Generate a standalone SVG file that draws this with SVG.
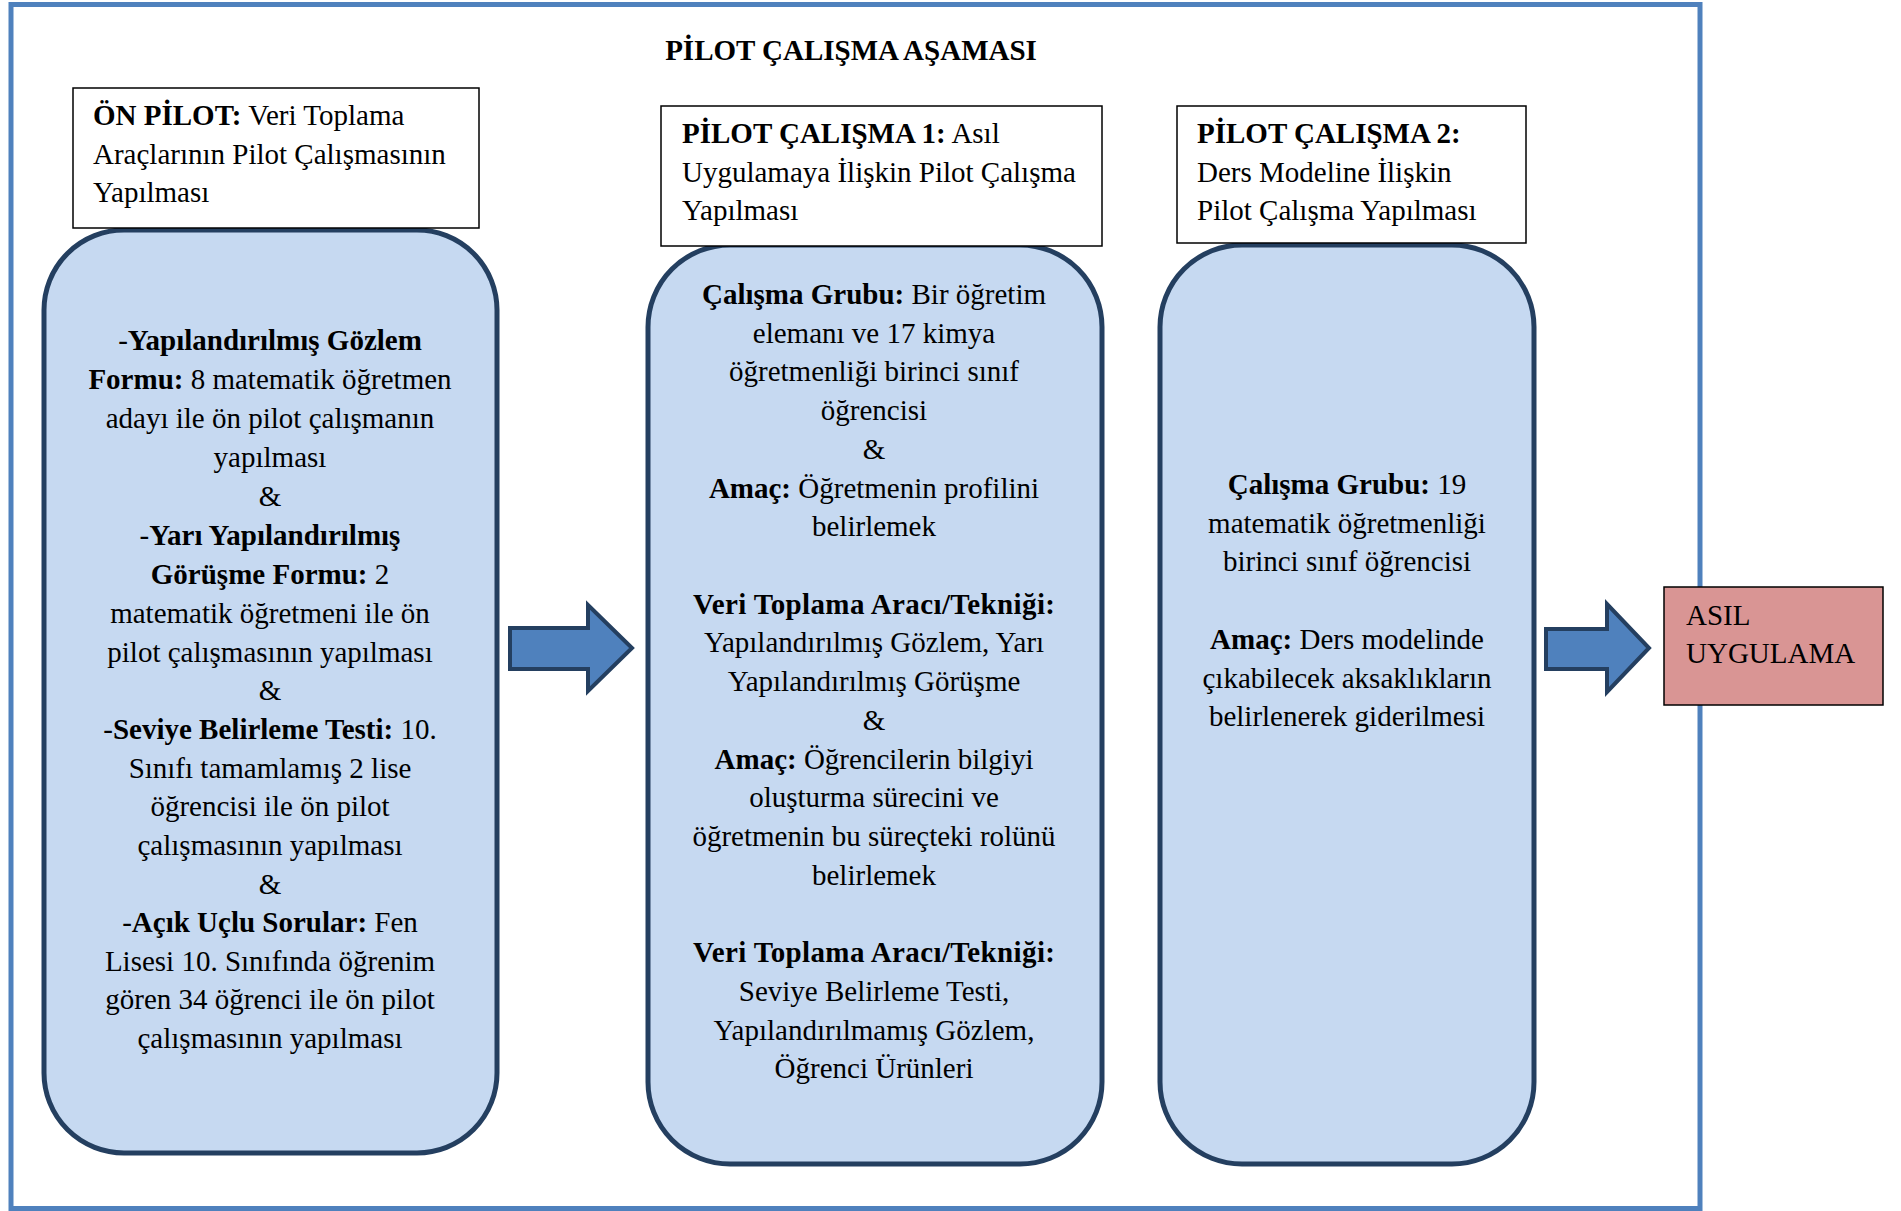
<svg xmlns="http://www.w3.org/2000/svg" width="1901" height="1211" viewBox="0 0 1901 1211">
<style>
text{font-family:"Liberation Serif","Times New Roman",serif;font-size:29px;fill:#000}
.c{text-anchor:middle}
.b{font-weight:bold}
.frame{fill:none;stroke:#4F81BD;stroke-width:5}
.round{fill:#C6D9F1;stroke:#243F60;stroke-width:5}
.hdr{fill:#fff;stroke:#000;stroke-width:1.5}
.arrow{fill:#4F81BD;stroke:#243F60;stroke-width:4;stroke-linejoin:miter}
</style>
<rect width="1901" height="1211" fill="#fff"/>
<rect class="frame" x="11" y="4.5" width="1689" height="1204"/>
<text id="title" class="c b" x="851" y="60">PİLOT ÇALIŞMA AŞAMASI</text>

<g id="onpilot-body">
<rect class="round" x="44" y="230" width="453" height="923" rx="80" ry="80"/>
<text class="c" x="270" y="350">-<tspan class="b">Yapılandırılmış Gözlem</tspan></text>
<text class="c" x="270" y="389"><tspan class="b">Formu:</tspan> 8 matematik öğretmen</text>
<text class="c" x="270" y="428">adayı ile ön pilot çalışmanın</text>
<text class="c" x="270" y="467">yapılması</text>
<text class="c" x="270" y="506">&amp;</text>
<text class="c" x="270" y="545">-<tspan class="b">Yarı Yapılandırılmış</tspan></text>
<text class="c" x="270" y="584"><tspan class="b">Görüşme Formu:</tspan> 2</text>
<text class="c" x="270" y="623">matematik öğretmeni ile ön</text>
<text class="c" x="270" y="662">pilot çalışmasının yapılması</text>
<text class="c" x="270" y="700">&amp;</text>
<text class="c" x="270" y="739">-<tspan class="b">Seviye Belirleme Testi:</tspan> 10.</text>
<text class="c" x="270" y="778">Sınıfı tamamlamış 2 lise</text>
<text class="c" x="270" y="816">öğrencisi ile ön pilot</text>
<text class="c" x="270" y="855">çalışmasının yapılması</text>
<text class="c" x="270" y="894">&amp;</text>
<text class="c" x="270" y="932">-<tspan class="b">Açık Uçlu Sorular:</tspan> Fen</text>
<text class="c" x="270" y="971">Lisesi 10. Sınıfında öğrenim</text>
<text class="c" x="270" y="1009">gören 34 öğrenci ile ön pilot</text>
<text class="c" x="270" y="1048">çalışmasının yapılması</text>
</g>

<g id="pilot1-body">
<rect class="round" x="648" y="245" width="454" height="919" rx="82" ry="82"/>
<text class="c" x="874" y="304"><tspan class="b">Çalışma Grubu:</tspan> Bir öğretim</text>
<text class="c" x="874" y="343">elemanı ve 17 kimya</text>
<text class="c" x="874" y="381">öğretmenliği birinci sınıf</text>
<text class="c" x="874" y="420">öğrencisi</text>
<text class="c" x="874" y="459">&amp;</text>
<text class="c" x="874" y="498"><tspan class="b">Amaç:</tspan> Öğretmenin profilini</text>
<text class="c" x="874" y="536">belirlemek</text>
<text class="c b" x="874" y="614" textLength="362" lengthAdjust="spacing">Veri Toplama Aracı/Tekniği:</text>
<text class="c" x="874" y="652">Yapılandırılmış Gözlem, Yarı</text>
<text class="c" x="874" y="691">Yapılandırılmış Görüşme</text>
<text class="c" x="874" y="730">&amp;</text>
<text class="c" x="874" y="769"><tspan class="b">Amaç:</tspan> Öğrencilerin bilgiyi</text>
<text class="c" x="874" y="807">oluşturma sürecini ve</text>
<text class="c" x="874" y="846">öğretmenin bu süreçteki rolünü</text>
<text class="c" x="874" y="885">belirlemek</text>
<text class="c b" x="874" y="962" textLength="362" lengthAdjust="spacing">Veri Toplama Aracı/Tekniği:</text>
<text class="c" x="874" y="1001">Seviye Belirleme Testi,</text>
<text class="c" x="874" y="1040">Yapılandırılmamış Gözlem,</text>
<text class="c" x="874" y="1078">Öğrenci Ürünleri</text>
</g>

<g id="pilot2-body">
<rect class="round" x="1160" y="245" width="374" height="919" rx="82" ry="82"/>
<text class="c" x="1347" y="494"><tspan class="b">Çalışma Grubu:</tspan> 19</text>
<text class="c" x="1347" y="533">matematik öğretmenliği</text>
<text class="c" x="1347" y="571">birinci sınıf öğrencisi</text>
<text class="c" x="1347" y="649"><tspan class="b">Amaç:</tspan> Ders modelinde</text>
<text class="c" x="1347" y="688">çıkabilecek aksaklıkların</text>
<text class="c" x="1347" y="726">belirlenerek giderilmesi</text>
</g>

<g id="onpilot-header">
<rect class="hdr" x="73" y="88" width="406" height="140"/>
<text x="93" y="125"><tspan class="b">ÖN PİLOT:</tspan> Veri Toplama</text>
<text x="93" y="164">Araçlarının Pilot Çalışmasının</text>
<text x="93" y="202">Yapılması</text>
</g>

<g id="pilot1-header">
<rect class="hdr" x="661" y="106" width="441" height="140"/>
<text x="682" y="143"><tspan class="b">PİLOT ÇALIŞMA 1:</tspan> Asıl</text>
<text x="682" y="182">Uygulamaya İlişkin Pilot Çalışma</text>
<text x="682" y="220">Yapılması</text>
</g>

<g id="pilot2-header">
<rect class="hdr" x="1177" y="106" width="349" height="137"/>
<text class="b" x="1197" y="143">PİLOT ÇALIŞMA 2:</text>
<text x="1197" y="182">Ders Modeline İlişkin</text>
<text x="1197" y="220">Pilot Çalışma Yapılması</text>
</g>

<g id="asil-uygulama">
<rect x="1664" y="587" width="219" height="118" fill="#D99594" stroke="#000" stroke-width="1.5"/>
<text x="1686" y="625">ASIL</text>
<text x="1686" y="663">UYGULAMA</text>
</g>

<g id="connectors">
<polygon class="arrow" points="510,628 588,628 588,605 632,648 588,691 588,669 510,669"/>
<polygon class="arrow" points="1546,629 1607,629 1607,604 1649,648 1607,692 1607,669 1546,669"/>
</g>
</svg>
